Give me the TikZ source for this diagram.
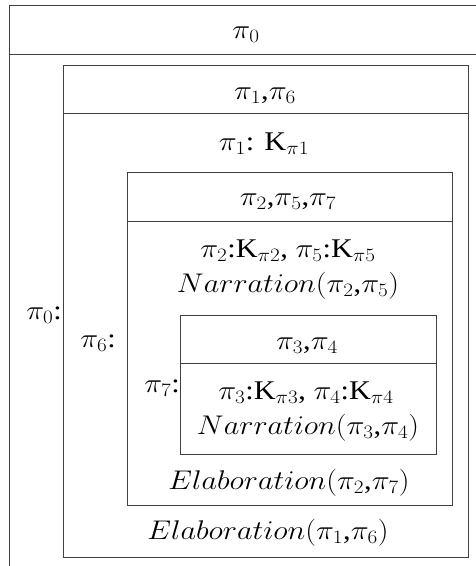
\RequirePackage{fix-cm}
\documentclass[tikz,border=0pt]{standalone}
\usepackage{fontspec}
\setmainfont{Liberation Serif}
\usepackage{tikz}

\begin{document}
\begin{tikzpicture}[
x=1pt, y=-1pt,
box_line/.style={draw=black!75, line width=0.8pt},
drs_text/.style={inner sep=0pt, xscale=1.12, font=\fontsize{27}{31}\selectfont}
]
\useasboundingbox (0,0) rectangle (476,566);

% boxes: \draw[box_line](top_left) rectangle (bottom_right);
% header line: \draw[box_line](left,y) -- (right,y);
\draw[box_line] (9,580) -- (9,5) -- (490,5);
\draw[box_line] (9,54) -- (490,54);

\draw[box_line] (63,65) rectangle (468,557);
\draw[box_line] (63,113) -- (468,113);

\draw[box_line] (127,172) rectangle (452,505);
\draw[box_line] (127,221) -- (452,221);

\draw[box_line] (180,315) rectangle (436,454);
\draw[box_line] (180,363) -- (436,363);

% \node[drs_text](name_of_node) at (x,y) {node_text};
\node[drs_text](head_pi0) at (246,35) {$\pi_0$};
\node[drs_text](label_pi0) at (44,315) {$\pi_0$:};

\node[drs_text](head_pi1_pi6) at (265,96) {$\pi_1$,$\pi_6$};
\node[drs_text](cond_pi1) at (264,144) {$\pi_1$: K$_{\pi1}$};
\node[drs_text](label_pi6) at (98,343) {$\pi_6$:};
\node[drs_text](elab_pi1_pi6) at (268,533) {$Elaboration(\pi_1$,$\pi_6)$};

\node[drs_text](head_pi2_pi5_pi7) at (288,202) {$\pi_2$,$\pi_5$,$\pi_7$};
\node[drs_text](cond_pi2_pi5) at (288,251) {$\pi_2$:K$_{\pi2}$, $\pi_5$:K$_{\pi5}$};
\node[drs_text](narr_pi2_pi5) at (288,286) {$Narration(\pi_2$,$\pi_5)$};
\node[drs_text](label_pi7) at (162,388) {$\pi_7$:};
\node[drs_text](elab_pi2_pi7) at (289,483) {$Elaboration(\pi_2$,$\pi_7)$};

\node[drs_text](head_pi3_pi4) at (307,346) {$\pi_3$,$\pi_4$};
\node[drs_text](cond_pi3_pi4) at (306,393) {$\pi_3$:K$_{\pi3}$, $\pi_4$:K$_{\pi4}$};
\node[drs_text](narr_pi3_pi4) at (308,428) {$Narration(\pi_3$,$\pi_4)$};

\end{tikzpicture}
\end{document}
